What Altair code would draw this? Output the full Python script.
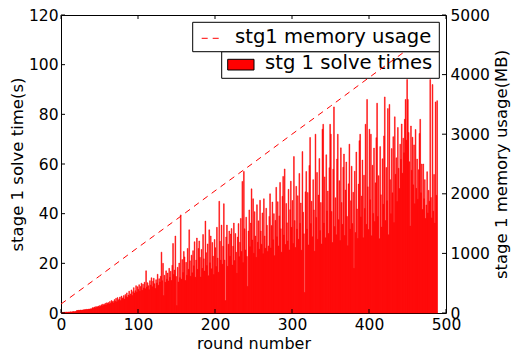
import altair as alt
import pandas as pd

# ---------------- data ----------------
solve_times = [
    0.2, 0.2, 0.3, 0.2, 0.3, 0.3, 0.3, 0.4, 0.3, 0.4,
    0.4, 0.4, 0.5, 0.4, 0.5, 0.5, 0.6, 0.5, 0.6, 0.6,
    1.0, 1.0, 1.1, 1.0, 1.1, 1.2, 1.1, 1.2, 1.2, 1.3,
    1.3, 1.4, 1.3, 1.5, 1.4, 1.5, 1.6, 1.5, 1.7, 1.6,
    2.0, 2.2, 1.9, 2.4, 2.1, 2.6, 2.3, 2.5, 2.8, 2.4,
    3.0, 2.7, 3.3, 2.9, 3.6, 3.1, 3.4, 3.9, 3.2, 4.1,
    3.8, 4.2, 3.6, 4.6, 3.9, 5.0, 4.3, 4.8, 4.1, 5.4,
    4.7, 5.9, 4.5, 6.2, 5.1, 5.6, 6.4, 5.0, 6.8, 5.8,
    6.1, 7.0, 5.6, 7.4, 6.6, 8.1, 6.3, 7.2, 8.8, 6.9,
    7.7, 9.3, 7.0, 8.6, 10.2, 8.1, 9.0, 11.0, 8.4, 10.6,
    9.5, 11.4, 8.8, 10.7, 12.0, 9.2, 11.6, 10.1, 12.4, 9.8,
    17.0, 10.5, 12.2, 11.0, 9.4, 13.0, 11.3, 14.2, 10.6, 12.8,
    14.0, 11.8, 9.9, 13.4, 12.1, 15.6, 11.2, 13.8, 12.5, 14.8,
    24.5, 13.0, 20.0, 7.0, 15.2, 12.4, 17.0, 13.6, 16.1, 12.9,
    18.0, 14.4, 16.8, 13.1, 19.2, 28.0, 15.5, 17.3, 31.0, 14.7,
    3.0, 18.4, 12.5, 20.1, 14.2, 39.5, 13.6, 21.5, 16.3, 24.8,
    22.6, 13.1, 20.4, 15.2, 26.0, 17.6, 33.5, 21.0, 14.8, 23.3,
    16.2, 25.1, 19.0, 28.7, 14.4, 21.3, 30.2, 17.6, 26.0, 29.0,
    22.4, 14.5, 25.6, 18.0, 31.6, 21.8, 16.9, 37.0, 24.3, 19.1,
    27.8, 15.0, 33.5, 20.2, 31.0, 17.8, 28.4, 22.9, 15.5, 29.6,
    26.3, 18.7, 34.5, 22.1, 16.4, 45.0, 28.9, 21.3, 35.4, 19.6,
    26.9, 44.0, 21.3, 5.0, 30.6, 35.4, 18.8, 27.7, 33.0, 22.9,
    31.8, 34.0, 19.3, 26.9, 36.2, 21.1, 32.0, 24.5, 16.0, 30.6,
    36.0, 22.7, 28.5, 38.1, 24.8, 53.0, 20.3, 57.0, 33.9, 25.4,
    38.6, 22.8, 10.7, 33.0, 41.5, 26.7, 36.2, 50.0, 29.4, 46.0,
    24.1, 40.8, 31.0, 22.4, 43.6, 28.5, 37.1, 25.7, 45.4, 33.0,
    27.7, 40.3, 23.9, 46.0, 31.0, 26.1, 42.2, 35.3, 24.8, 27.0,
    38.9, 48.0, 26.2, 35.2, 44.7, 29.5, 40.0, 23.1, 37.3, 50.6,
    30.7, 44.8, 27.0, 39.1, 52.6, 33.9, 24.5, 47.0, 55.0, 31.4,
    58.0, 27.6, 44.1, 36.3, 29.0, 49.8, 25.4, 41.6, 53.1, 34.5,
    45.3, 28.0, 63.0, 37.2, 26.4, 51.0, 33.8, 47.2, 29.7, 56.2,
    36.1, 44.3, 25.3, 65.0, 40.6, 31.9, 8.3, 48.8, 57.0, 33.8,
    48.5, 27.4, 59.4, 70.7, 36.0, 45.0, 30.7, 53.7, 41.5, 24.9,
    72.0, 38.5, 56.6, 29.7, 47.5, 62.2, 33.2, 44.5, 27.8, 74.0,
    76.0, 36.2, 54.8, 30.3, 63.7, 41.1, 49.1, 32.0, 58.5, 76.0,
    72.0, 40.9, 28.4, 57.9, 83.0, 34.8, 46.4, 31.5, 62.0, 72.0,
    37.6, 53.3, 29.2, 66.5, 44.5, 35.7, 58.7, 64.0, 31.2, 49.5,
    60.8, 38.9, 27.1, 52.0, 68.0, 33.8, 45.2, 59.1, 36.0, 48.6,
    18.0, 57.1, 32.4, 64.8, 41.9, 30.0, 51.9, 69.4, 72.0, 38.7,
    47.1, 61.6, 30.3, 55.5, 42.1, 76.0, 35.7, 86.0, 50.8, 33.6,
    74.0, 45.6, 72.0, 31.1, 59.5, 40.1, 66.4, 36.8, 52.4, 70.6,
    84.5, 38.9, 55.3, 29.9, 67.0, 47.6, 34.6, 62.1, 43.8, 71.3,
    87.0, 37.2, 58.6, 45.2, 82.3, 31.5, 84.0, 53.7, 40.0, 66.2,
    48.4, 71.0, 36.4, 79.0, 55.9, 62.5, 44.9, 74.7, 58.3, 50.1,
    68.0, 61.9, 76.1, 56.3, 70.4, 64.5, 78.0, 86.0, 69.6, 94.0,
    86.0, 72.7, 60.9, 35.0, 75.3, 57.5, 70.8, 51.6, 67.7, 44.0,
    73.9, 50.2, 62.0, 45.8, 57.7, 72.3, 78.0, 48.4, 60.0, 41.7,
    60.0, 46.0, 53.7, 38.1, 43.5, 56.9, 40.3, 49.4, 45.0, 94.0,
    46.5, 38.3, 92.0, 41.0, 55.8, 36.2, 85.0, 47.4, 85.5,
]
rounds = list(range(len(solve_times)))

mem_rounds = [0, 50, 100, 150, 200, 250, 300, 350, 400, 450, 488]
mem_mb = [150, 620, 1100, 1570, 2050, 2520, 3000, 3470, 3950, 4420, 4790]

x_ticks = [0, 100, 200, 300, 400, 500]
left_ticks = [0, 20, 40, 60, 80, 100, 120]
right_ticks = [0, 1000, 2000, 3000, 4000, 5000]

x_title = "round number"
left_title = "stage 1 solve time(s)"
right_title = "stage 1 memory usage(MB)"
legend_mem = "stg1 memory usage"
legend_bar = "stg 1 solve times"

# ---------------- layout ----------------
W, H = 385, 298
FONT = "DejaVu Sans"
RED = "#ff0000"

x_scale = alt.Scale(domain=[0, 500], nice=False, zero=False)
yl_scale = alt.Scale(domain=[0, 120], nice=False)
yr_scale = alt.Scale(domain=[0, 5000], nice=False)

common_axis = dict(ticks=False, domain=False, grid=False, labelFlush=False,
                   labelOverlap=False, labelFont=FONT, titleFont=FONT,
                   labelColor="black", titleColor="black", labelFontSize=15.5,
                   titleFontSize=16.5, titleFontWeight="normal", format="d")

bars_df = pd.DataFrame({"round": rounds, "time": solve_times})
mem_df = pd.DataFrame({"round": mem_rounds, "mem": mem_mb})
one = pd.DataFrame({"a": [0]})

x_axis_opts = dict(common_axis)
x_axis_opts["titleFontSize"] = 16

bars = alt.Chart(bars_df).transform_calculate(
    round_end="datum.round + 1", zero="0"
).mark_rect(color=RED, stroke=RED, strokeWidth=0.5).encode(
    x=alt.X("round:Q", scale=x_scale,
            axis=alt.Axis(values=x_ticks, title=x_title, labelPadding=4,
                          titleBaseline="alphabetic", titleY=35, **x_axis_opts)),
    x2="round_end:Q",
    y=alt.Y("time:Q", scale=yl_scale,
            axis=alt.Axis(values=left_ticks, title=left_title, orient="left",
                          labelPadding=3, titlePadding=3, **common_axis)),
    y2="zero:Q",
)

line = alt.Chart(mem_df).mark_line(color=RED, strokeWidth=1, strokeDash=[6, 5]).encode(
    x=alt.X("round:Q", scale=x_scale, axis=None),
    y=alt.Y("mem:Q", scale=yr_scale,
            axis=alt.Axis(values=right_ticks, title=right_title, orient="right",
                          labelPadding=4, titleAngle=270, titleBaseline="top",
                          titlePadding=4, **common_axis)),
)

# inward tick marks (matplotlib style)
lt = alt.Chart(pd.DataFrame({"v": left_ticks})).mark_rule(color="black").encode(
    y=alt.Y("v:Q", scale=yl_scale, axis=None), x=alt.value(0), x2=alt.value(4))
rt = alt.Chart(pd.DataFrame({"v": right_ticks})).mark_rule(color="black").encode(
    y=alt.Y("v:Q", scale=yr_scale, axis=None), x=alt.value(W), x2=alt.value(W - 4))
bt = alt.Chart(pd.DataFrame({"v": x_ticks})).mark_rule(color="black").encode(
    x=alt.X("v:Q", scale=x_scale, axis=None), y=alt.value(H), y2=alt.value(H - 4))
tt = alt.Chart(pd.DataFrame({"v": x_ticks})).mark_rule(color="black").encode(
    x=alt.X("v:Q", scale=x_scale, axis=None), y=alt.value(0), y2=alt.value(4))

# legend 2 (bars) - drawn below the line
leg2_box = alt.Chart(one).mark_rect(fill="white", stroke="black", strokeWidth=1).encode(
    x=alt.value(160.7), x2=alt.value(378.3), y=alt.value(36.7), y2=alt.value(63.3))
leg2_sw = alt.Chart(one).mark_rect(fill=RED, stroke="black", strokeWidth=1).encode(
    x=alt.value(166.7), x2=alt.value(193), y=alt.value(44.3), y2=alt.value(55))
leg2_txt = alt.Chart(pd.DataFrame({"label": [legend_bar]})).mark_text(
    align="left", baseline="alphabetic", font=FONT, fontSize=19.6, color="black"
).encode(text="label:N", x=alt.value(204), y=alt.value(54.3))

# legend 1 (memory line) - drawn above the line
leg1_box = alt.Chart(one).mark_rect(fill="white", stroke="black", strokeWidth=1).encode(
    x=alt.value(131.7), x2=alt.value(378.3), y=alt.value(7.3), y2=alt.value(36.7))
leg1_sample = alt.Chart(one).mark_rule(color=RED, strokeWidth=1, strokeDash=[6, 5]).encode(
    x=alt.value(140.7), x2=alt.value(158.3), y=alt.value(23.3))
leg1_txt = alt.Chart(pd.DataFrame({"label": [legend_mem]})).mark_text(
    align="left", baseline="alphabetic", font=FONT, fontSize=19.6, color="black"
).encode(text="label:N", x=alt.value(174), y=alt.value(28.3))

chart = alt.layer(
    bars, lt, rt, bt, tt,
    leg2_box, leg2_sw, leg2_txt,
    line,
    leg1_box, leg1_sample, leg1_txt,
).resolve_scale(
    x="independent", y="independent"
).properties(
    width=W, height=H,
    autosize=alt.AutoSizeParams(type="none"),
    padding={"left": 61, "top": 15, "right": 512 - 61 - W, "bottom": 349 - 15 - H},
    background="white",
).configure_view(stroke="black", strokeWidth=1)

chart.save("out.html", embed_options={"renderer": "svg", "actions": False})
